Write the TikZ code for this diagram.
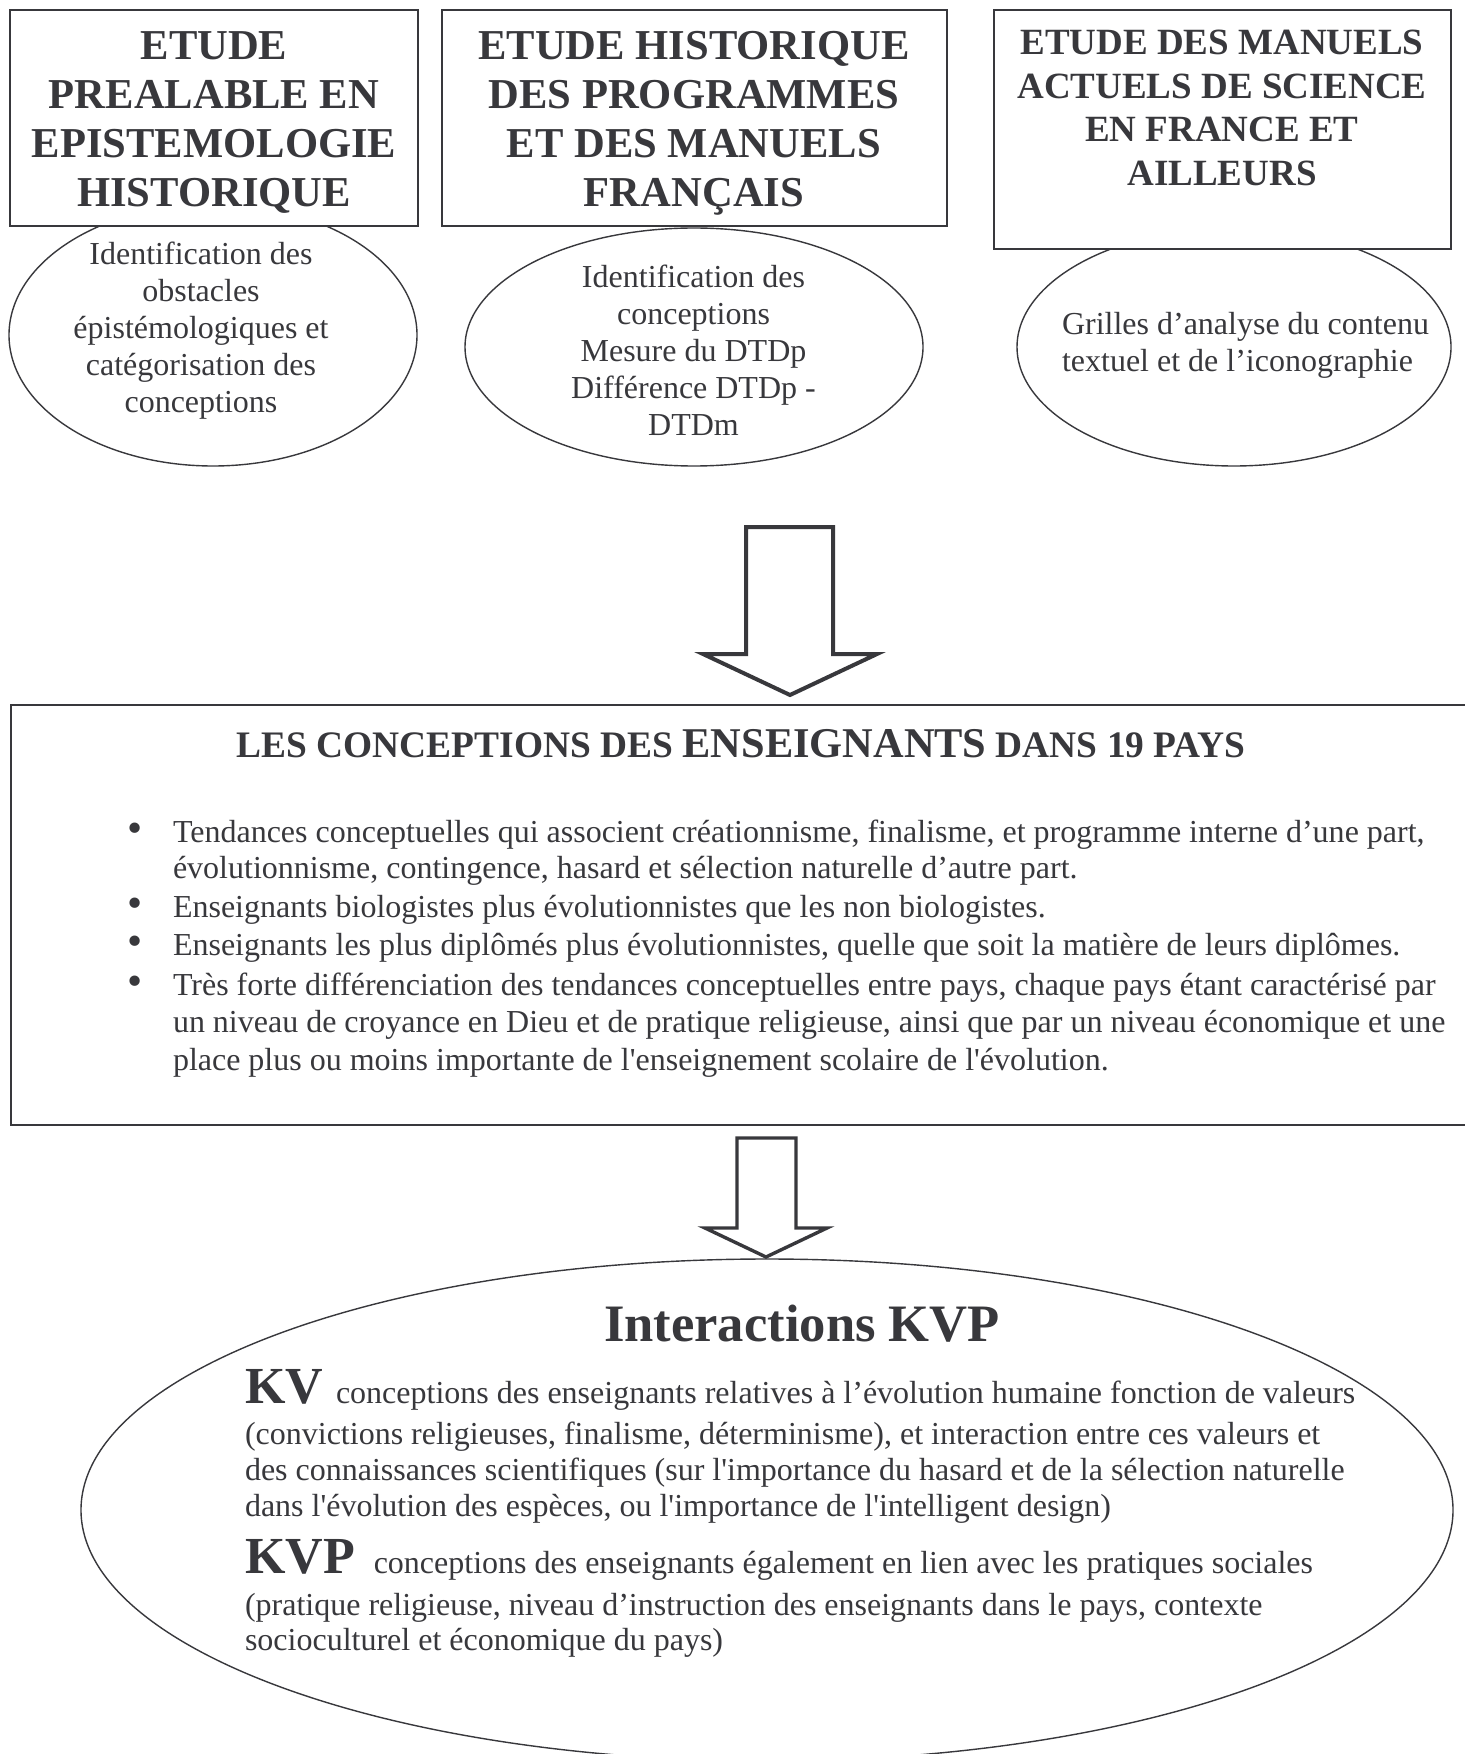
\documentclass[tikz,border=0pt]{standalone}
\usepackage{fontspec}
\usepackage{graphicx}
\setmainfont{Liberation Serif}
\usetikzlibrary{shapes.geometric}
\definecolor{ink}{RGB}{56,56,60}
\tikzset{
  box/.style={draw=ink, line width=1pt, fill=white, inner sep=0pt, rectangle},
  oval/.style={ellipse, draw=ink, line width=0.7pt, inner sep=0pt},
  txt/.style={inner sep=0pt, outer sep=0pt, text=ink},
  blockarrow/.style={draw=ink, fill=white, line join=miter}
}
\newcommand{\sq}{\textquotesingle}
\newcommand{\bulletpara}[2]{\parbox[t]{680pt}{\raggedright\fontsize{16}{#1}\selectfont\hangindent=22.85pt\hangafter=1\makebox[22.85pt][l]{\scalebox{1.35}{\textbullet}}#2}}
\begin{document}
\begin{tikzpicture}[x=0.5pt,y=-0.5pt]
\useasboundingbox (0,0) rectangle (1465,1754);
\clip (0,0) rectangle (1465,1754);
\fill[white] (0,0) rectangle (1465,1754);

% ellipses of the top row
\node[oval, minimum width=204pt, minimum height=131pt] (e1) at (213,335) {};
\node[oval, minimum width=229pt, minimum height=119pt] (e2) at (694,347) {};
\node[oval, minimum width=217pt, minimum height=119pt] (e3) at (1234,347) {};

% boxes of the top row
\node[box, minimum width=204pt, minimum height=108pt] (b1) at (214,118) {};
\node[box, minimum width=252.5pt, minimum height=108pt] (b2) at (694.5,118) {};
\node[box, minimum width=228.5pt, minimum height=119.5pt] (b3) at (1222.5,129.5) {};

\node[txt, anchor=base] (t1) at (214,60) {\parbox[t]{200pt}{\centering\fontsize{21.3}{24.35}\selectfont\bfseries ETUDE\\PREALABLE EN\\EPISTEMOLOGIE\\HISTORIQUE}};
\node[txt, anchor=base] (t2) at (694,60) {\parbox[t]{250pt}{\centering\fontsize{21.3}{24.35}\selectfont\bfseries ETUDE HISTORIQUE\\DES PROGRAMMES\\ET DES MANUELS\\FRANÇAIS}};
\node[txt, anchor=base] (t3) at (1222,55) {\parbox[t]{226pt}{\centering\fontsize{18.5}{21.67}\selectfont\bfseries ETUDE DES MANUELS\\ACTUELS DE SCIENCE\\EN FRANCE ET\\AILLEURS}};

\node[txt, anchor=base] (et1) at (201,265) {\parbox[t]{200pt}{\centering\fontsize{16}{18.4}\selectfont Identification des\\obstacles\\épistémologiques et\\catégorisation des\\conceptions}};
\node[txt, anchor=base] (et2) at (693.5,288) {\parbox[t]{220pt}{\centering\fontsize{16}{18.4}\selectfont Identification des\\conceptions\\Mesure du DTDp\\Différence DTDp -\\DTDm}};
\node[txt, anchor=base west] (et3) at (1062,335) {\parbox[t]{200pt}{\raggedright\fontsize{16}{18.5}\selectfont Grilles d’analyse du contenu\\textuel et de l’iconographie}};

% main box
\node[box, minimum width=732pt, minimum height=210pt] (mb) at (743,915) {};
\node[txt, anchor=base] (mt) at (741,757) {\bfseries\fontsize{18.7}{22}\selectfont LES CONCEPTIONS DES {\fontsize{21.2}{24}\selectfont ENSEIGNANTS} DANS 19 PAYS};

\node[txt, anchor=base west] (p1) at (127.3,842) {\bulletpara{18}{Tendances conceptuelles qui associent créationnisme, finalisme, et programme interne d’une part,\newline évolutionnisme, contingence, hasard et sélection naturelle d’autre part.}};
\node[txt, anchor=base west] (p2) at (127.3,917) {\bulletpara{18}{Enseignants biologistes plus évolutionnistes que les non biologistes.}};
\node[txt, anchor=base west] (p3) at (127.3,955) {\bulletpara{18}{Enseignants les plus diplômés plus évolutionnistes, quelle que soit la matière de leurs diplômes.}};
\node[txt, anchor=base west] (p4) at (127.3,995) {\bulletpara{18.75}{Très forte différenciation des tendances conceptuelles entre pays, chaque pays étant caractérisé par\newline un niveau de croyance en Dieu et de pratique religieuse, ainsi que par un niveau économique et une\newline place plus ou moins importante de l\sq enseignement scolaire de l\sq évolution.}};

% big ellipse
\node[oval, minimum width=686pt, minimum height=251pt] (be) at (767,1510) {};
\node[txt, anchor=base] (it) at (802,1341) {\bfseries\fontsize{26.3}{30}\selectfont Interactions KVP};
\node[txt, anchor=base west] (kv) at (245,1403) {{\bfseries\fontsize{26}{30}\selectfont KV}\hspace{6.5pt}{\fontsize{16}{18}\selectfont conceptions des enseignants relatives à l’évolution humaine fonction de valeurs}};
\node[txt, anchor=base west] (kvt) at (245,1444) {\parbox[t]{600pt}{\raggedright\fontsize{16}{18}\selectfont (convictions religieuses, finalisme, déterminisme), et interaction entre ces valeurs et\\des connaissances scientifiques (sur l\sq importance du hasard et de la sélection naturelle\\dans l\sq évolution des espèces, ou l\sq importance de l\sq intelligent design)}};
\node[txt, anchor=base west] (kvp) at (245,1573) {{\bfseries\fontsize{26}{30}\selectfont KVP}\hspace{9.5pt}{\fontsize{16}{18}\selectfont conceptions des enseignants également en lien avec les pratiques sociales}};
\node[txt, anchor=base west] (kvpt) at (245,1615) {\parbox[t]{600pt}{\raggedright\fontsize{16}{17.5}\selectfont (pratique religieuse, niveau d’instruction des enseignants dans le pays, contexte\\socioculturel et économique du pays)}};

% block arrows
\draw[blockarrow, line width=2pt] (746,527) -- (833,527) -- (833,654) -- (877,654) -- (790,695) -- (703,654) -- (746,654) -- cycle;
\draw[blockarrow, line width=1.7pt] (737,1138) -- (796,1138) -- (796,1228) -- (827,1228) -- (766,1257) -- (705,1228) -- (737,1228) -- cycle;
\end{tikzpicture}
\end{document}
